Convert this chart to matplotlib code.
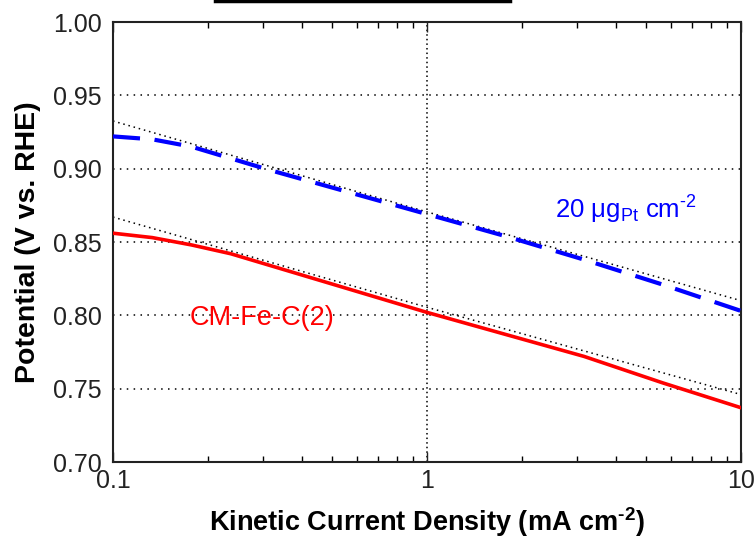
import numpy as np
import matplotlib.pyplot as plt
from matplotlib.ticker import LogLocator, NullFormatter, FixedLocator, FixedFormatter

plt.rcParams['font.family'] = ['Liberation Sans', 'DejaVu Sans']
plt.rcParams['mathtext.fontset'] = 'custom'
plt.rcParams['mathtext.rm'] = 'Liberation Sans'
plt.rcParams['mathtext.it'] = 'Liberation Sans:italic'
plt.rcParams['mathtext.bf'] = 'Liberation Sans:bold'

# kinetic current density (mA cm-2)
j_kin = [0.1, 0.1334, 0.1778, 0.2371, 0.3162, 0.5623, 1.0, 1.778, 3.162, 5.623, 10.0]

# measured potentials (V vs. RHE)
E_pt = [0.922, 0.920, 0.915, 0.907, 0.899, 0.884, 0.869, 0.854, 0.838, 0.821, 0.803]
E_fe = [0.856, 0.853, 0.848, 0.842, 0.834, 0.818, 0.802, 0.787, 0.772, 0.754, 0.737]

# Tafel fit lines, evaluated at the axis ends
j_fit = [0.1, 1.0, 10.0]
E_pt_fit = [0.9325, 0.8705, 0.810]
E_fe_fit = [0.867, 0.8055, 0.746]

y_ticks = [0.70, 0.75, 0.80, 0.85, 0.90, 0.95, 1.00]
x_ticks = [0.1, 1, 10]
x_ticklabels = ['0.1', '1', '10']

fig = plt.figure(figsize=(7.56, 5.42), dpi=100)
ax = fig.add_axes([113 / 756, 80 / 542, 628 / 756, 440 / 542])

# grid
for y in y_ticks[1:-1]:
    ax.axhline(y, color='black', lw=1.1, ls=(0, (1, 3.5)), zorder=1)
ax.axvline(1, color='black', lw=1.1, ls=(0, (1, 2)), zorder=1)

ax.plot(j_fit, E_pt_fit, color='black', lw=1.1, ls=(0, (1, 2.5)), zorder=2)
ax.plot(j_fit, E_fe_fit, color='black', lw=1.1, ls=(0, (1, 2.5)), zorder=2)
ax.plot(j_kin, E_pt, color='#0000ff', lw=3, ls=(0, (6.5, 3.5)), zorder=3)
ax.plot(j_kin, E_fe, color='#ff0000', lw=2.6, zorder=3)

ax.set_xscale('log')
ax.set_xlim(0.1, 10)
ax.set_ylim(0.70, 1.00)

ax.xaxis.set_major_locator(FixedLocator(x_ticks))
ax.xaxis.set_major_formatter(FixedFormatter(x_ticklabels))
ax.xaxis.set_minor_locator(LogLocator(base=10, subs=np.arange(2, 10)))
ax.xaxis.set_minor_formatter(NullFormatter())
ax.set_yticks(y_ticks)
ax.set_yticklabels([f'{v:.2f}' for v in y_ticks])

ax.tick_params(axis='x', which='major', direction='in', top=True, length=7,
               width=1, labelsize=18, colors='#222222', pad=5)
ax.tick_params(axis='x', which='minor', direction='in', top=True, length=4, width=1)
ax.tick_params(axis='y', which='major', length=0, labelsize=18,
               colors='#222222', pad=8)
for s in ax.spines.values():
    s.set_linewidth(1.5)
    s.set_color('#222222')

ax.set_xlabel('Kinetic Current Density (mA cm$^{\\mathbf{\u2010}\\mathbf{2}}$)',
              fontsize=19.5, fontweight='bold', labelpad=9)
ax.set_ylabel('Potential (V vs. RHE)', fontsize=20.5, fontweight='bold', labelpad=9)

ax.text(4.3, 0.872, '20 μg$_{\\mathrm{Pt}}$ cm$^{\u20102}$', color='#0000ff',
        fontsize=18.5, ha='center', va='center')
ax.text(0.298, 0.798, 'CM-Fe-C(2)', color='#ff0000', fontsize=19.5,
        ha='center', va='center')

# underline stub above the frame
fig.add_artist(plt.Line2D([215 / 756, 510 / 756], [541 / 542, 541 / 542],
                          color='black', lw=2.5))

fig.savefig('out.png', dpi=100)
